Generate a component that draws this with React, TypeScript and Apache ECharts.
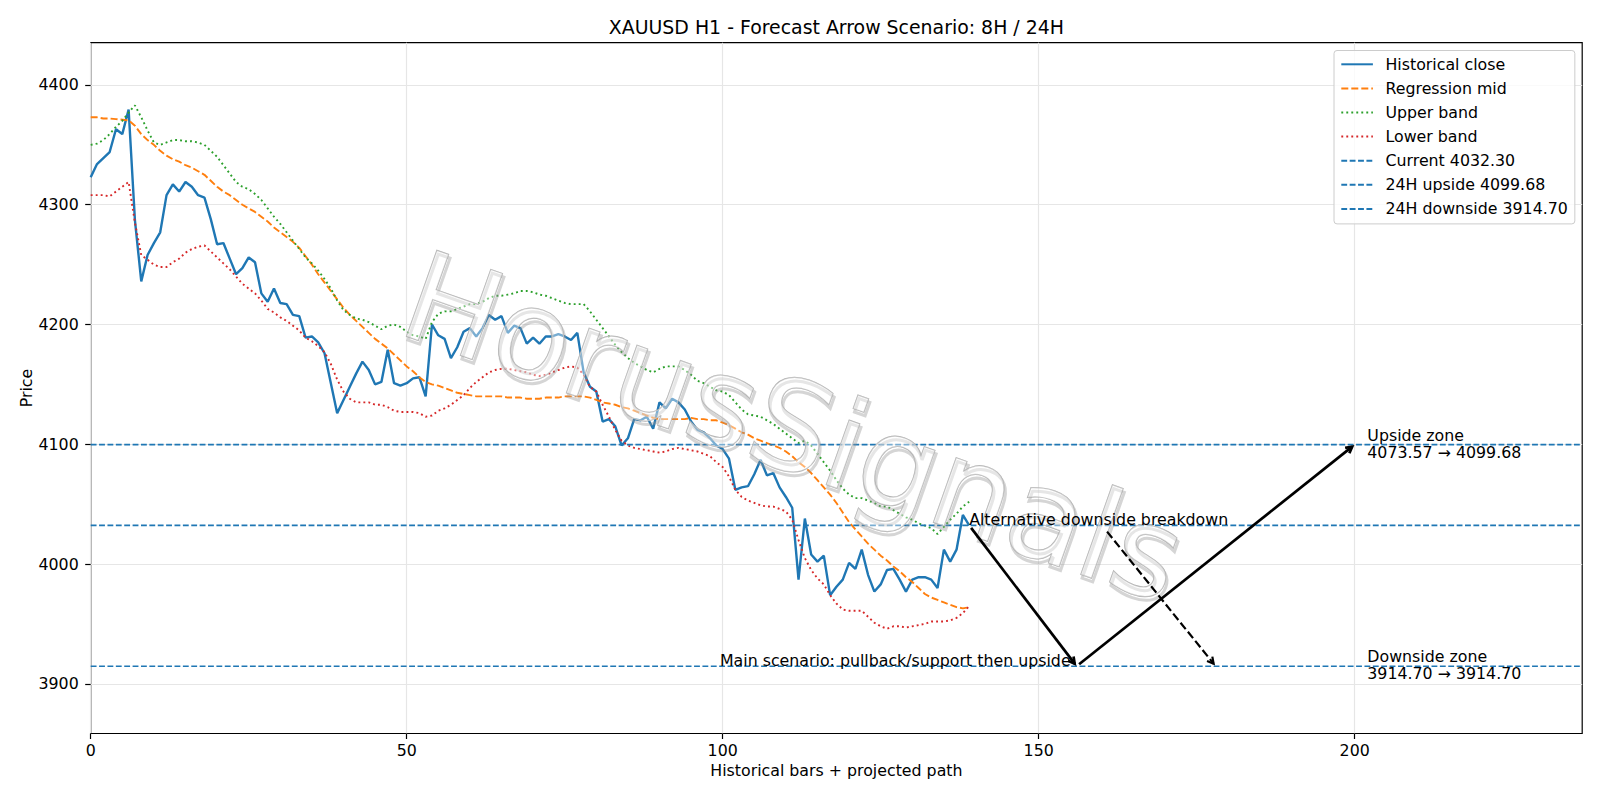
import { useEffect, useRef } from 'react';
import * as echarts from 'echarts';

// ---------- text & layout ----------
const FONT = '"DejaVu Sans", "Liberation Sans", sans-serif';
const FS = 15.8; // 10 pt
const FS_TITLE = 18.9; // 12 pt
const TITLE = 'XAUUSD H1 - Forecast Arrow Scenario: 8H / 24H';
const X_NAME = 'Historical bars + projected path';
const Y_NAME = 'Price';
const WATERMARK = 'HorusSignals';

// ---------- axes ----------
const X_RANGE = [0, 236];
const Y_RANGE = [3858.5, 4435.3];
const X_TICKS = [0, 50, 100, 150, 200];
const Y_TICKS = [3900, 4000, 4100, 4200, 4300, 4400];

// ---------- H1 series (bar 0 .. 139) ----------
const CLOSE = [
  4323, 4334, 4339, 4344, 4363, 4359, 4379.5, 4287, 4236, 4258,
  4268, 4277, 4308, 4317, 4311, 4319, 4315, 4308, 4306, 4288,
  4267, 4268, 4255, 4242, 4247, 4256, 4252, 4226, 4219, 4230,
  4218, 4217, 4208, 4207, 4189, 4190, 4185, 4176, 4151, 4126,
  4137, 4148, 4159, 4169, 4162, 4150, 4152, 4179, 4151, 4149,
  4151, 4155, 4156, 4140, 4200, 4191, 4188, 4172, 4181, 4194,
  4197, 4190, 4197, 4208, 4204, 4207, 4193, 4199, 4197, 4184,
  4189, 4184, 4190, 4190, 4192, 4190, 4187, 4193, 4160, 4148,
  4144, 4119, 4121, 4115, 4099, 4105, 4121, 4120, 4123, 4113,
  4135, 4130, 4138, 4135, 4129, 4119, 4112, 4110, 4105, 4099,
  4096, 4088, 4062, 4064, 4065, 4075, 4087, 4074, 4076, 4064,
  4056, 4047, 3987, 4038, 4008, 4002, 4007, 3974, 3981, 3987,
  4001, 3996, 4012, 3991, 3977, 3983, 3995, 3996, 3987, 3977,
  3987, 3989, 3989, 3987, 3980, 4012, 4002, 4012, 4041, 4032.3,
];

const MID = [
  4373, 4373, 4372, 4372, 4371.5, 4371, 4370.5, 4366, 4359, 4354,
  4350, 4345, 4341, 4338, 4336, 4333, 4331, 4328, 4325, 4320,
  4315, 4311, 4308, 4304, 4300, 4297, 4294, 4290, 4286, 4281,
  4277, 4273, 4269, 4264, 4257, 4250, 4242, 4235, 4228, 4221,
  4214, 4208, 4203, 4198, 4193, 4188, 4184, 4180, 4175, 4170,
  4165, 4161, 4156, 4152, 4150, 4149, 4147, 4145, 4143, 4142,
  4141, 4140, 4140, 4140, 4140, 4140, 4139, 4139, 4139, 4138,
  4138, 4138, 4139, 4139, 4139, 4140, 4140, 4140, 4140, 4139,
  4137, 4135, 4134, 4133, 4131, 4130, 4128, 4126, 4124, 4122,
  4121, 4121, 4121, 4121, 4121, 4122, 4121, 4121, 4120, 4120,
  4118, 4116, 4113, 4110, 4108, 4105, 4103, 4101, 4099, 4097,
  4094, 4090, 4085, 4081, 4076, 4070, 4064, 4058, 4051, 4043,
  4035, 4029, 4023, 4017, 4012, 4007, 4003, 3998, 3994, 3989,
  3985, 3980, 3975, 3972, 3970, 3968, 3966, 3964, 3963, 3964,
];

const UPPER = [
  4350, 4351, 4354, 4359, 4365, 4370, 4377, 4383, 4373, 4362,
  4352, 4350, 4352, 4354, 4354, 4353, 4353, 4352, 4350, 4345,
  4340, 4333, 4326, 4319, 4315, 4313, 4309, 4304, 4297, 4290,
  4284, 4277, 4270, 4263, 4256, 4251, 4245, 4238, 4230, 4220,
  4212, 4208, 4205, 4204, 4202, 4199, 4196, 4199, 4200, 4198,
  4194, 4191, 4190, 4188, 4202, 4209, 4211, 4211, 4213, 4215,
  4217, 4217, 4219, 4222, 4224, 4224, 4225, 4226, 4228, 4228,
  4227, 4225, 4224, 4222, 4220, 4218, 4217, 4217, 4217, 4211,
  4204, 4197, 4190, 4183, 4177, 4172, 4168, 4165, 4162, 4160,
  4163, 4165, 4165, 4165, 4162, 4158, 4153, 4151, 4148, 4145,
  4144, 4141, 4135, 4129, 4125, 4124, 4123, 4120, 4117, 4113,
  4109, 4105, 4101, 4103, 4099, 4092, 4085, 4078, 4070, 4063,
  4058, 4055, 4055, 4053, 4051, 4048, 4048, 4045, 4042, 4039,
  4037, 4034, 4032, 4030, 4025, 4031, 4037, 4042, 4048, 4052,
];

const LOWER = [
  4308, 4308, 4308, 4307, 4311, 4315, 4319, 4285, 4258, 4254,
  4250, 4248, 4248, 4252, 4255, 4260, 4263, 4265, 4266, 4261,
  4256, 4251, 4246, 4240, 4234, 4230, 4226, 4220, 4213, 4210,
  4206, 4203, 4199, 4195, 4189, 4186, 4182, 4177, 4167, 4154,
  4144, 4138, 4135, 4135, 4135, 4133, 4133, 4131, 4128, 4127,
  4127, 4127, 4126, 4123, 4124, 4128, 4130, 4133, 4137, 4141,
  4147, 4152, 4156, 4160, 4162, 4163, 4163, 4162, 4161, 4160,
  4158, 4157, 4158, 4160, 4162, 4164, 4165, 4164, 4158, 4148,
  4144, 4133, 4123, 4112, 4103, 4099, 4097, 4096, 4095, 4094,
  4093, 4094, 4096, 4097, 4096, 4095, 4094, 4092, 4090, 4085,
  4081, 4073, 4062, 4056, 4053, 4051, 4049, 4048, 4048, 4046,
  4044, 4037, 4020, 4005, 3995, 3988, 3983, 3974, 3967, 3962,
  3961, 3961, 3961, 3956, 3951, 3948, 3946, 3948, 3948, 3947,
  3948, 3949, 3950, 3952, 3952, 3952, 3953, 3955, 3959, 3965,
];

// ---------- levels & scenario ----------
const CURRENT = 4032.3;
const UPSIDE_24H = 4099.68;
const DOWNSIDE_24H = 3914.7;
const UPSIDE_ZONE = [4073.57, 4099.68];
const DOWNSIDE_ZONE = [3914.7, 3914.7];

// main path: now -> pullback/support -> 24H upside (bar index, price)
const PATH_X = [139, 156, 200];
const PATH_Y = [CURRENT, DOWNSIDE_24H, UPSIDE_24H];
// alternative: label anchor -> breakdown target
const ALT_X = [139, 178];
const ALT_Y = [CURRENT, DOWNSIDE_24H];
const ZONE_X = 202;

const MAIN_TEXT = 'Main scenario: pullback/support then upside';
const ALT_TEXT = 'Alternative downside breakdown';
const fmt = (v: number) => v.toFixed(2);
const NOTE_TEXT = [
  MAIN_TEXT,
  ALT_TEXT,
  `Upside zone\n${fmt(UPSIDE_ZONE[0])} → ${fmt(UPSIDE_ZONE[1])}`,
  `Downside zone\n${fmt(DOWNSIDE_ZONE[0])} → ${fmt(DOWNSIDE_ZONE[1])}`,
];
const NOTE_X = [PATH_X[1], ALT_X[0], ZONE_X, ZONE_X];
const NOTE_Y = [PATH_Y[1], ALT_Y[0], UPSIDE_ZONE[1], DOWNSIDE_ZONE[1]];

// ---------- styling ----------
const C_BLUE = '#1f77b4';
const C_ORANGE = '#ff7f0e';
const C_GREEN = '#2ca02c';
const C_RED = '#d62728';
const GRID_LINE = '#e6e6e6';
const CENTRAL = 0.346; // central baseline offset above the alphabetic baseline, in em

let measureCtx: CanvasRenderingContext2D | null = null;
function textWidth(text: string, size: number): number {
  if (!measureCtx) measureCtx = document.createElement('canvas').getContext('2d');
  if (!measureCtx) return text.length * size * 0.55;
  measureCtx.font = `${size}px ${FONT}`;
  return measureCtx.measureText(text).width;
}

function arrowChildren(s: number[], e: number[], width: number, dash: number[] | null) {
  const shrink = 3.2;
  const dx = e[0] - s[0];
  const dy = e[1] - s[1];
  const len = Math.hypot(dx, dy) || 1;
  const ux = dx / len;
  const uy = dy / len;
  const p0 = [s[0] + ux * shrink, s[1] + uy * shrink];
  const tip = [e[0] - ux * shrink, e[1] - uy * shrink];
  const headL = 6.3;
  const headW = 3.4;
  const bx = tip[0] - ux * headL;
  const by = tip[1] - uy * headL;
  const nx = -uy;
  const ny = ux;
  return [
    {
      type: 'line',
      shape: { x1: p0[0], y1: p0[1], x2: tip[0], y2: tip[1] },
      style: { stroke: '#000', lineWidth: width, lineDash: dash || undefined, lineCap: 'butt' },
    },
    {
      type: 'polyline',
      shape: { points: [[bx + nx * headW, by + ny * headW], tip, [bx - nx * headW, by - ny * headW]] },
      style: { stroke: '#000', fill: null, lineWidth: width, lineJoin: 'miter' },
    },
  ];
}

function buildOption() {
  const indexed = (arr: number[]) => arr.map((v, i) => [i, v]);
  const level = (v: number) => [[X_RANGE[0], v], [X_RANGE[1], v]];

  const line = (name: string, data: number[][], color: string, width: number, type: any) => ({
    type: 'line',
    name,
    data,
    symbol: 'none',
    showSymbol: false,
    silent: true,
    lineStyle: { color, width, type, cap: 'butt' },
    itemStyle: { color },
    emphasis: { disabled: true },
  });

  const levelNames = [
    `Current ${fmt(CURRENT)}`,
    `24H upside ${fmt(UPSIDE_24H)}`,
    `24H downside ${fmt(DOWNSIDE_24H)}`,
  ];
  const dashedThin = [5.85, 2.53];

  const arrowRows = [
    [PATH_X[0], PATH_Y[0], PATH_X[1], PATH_Y[1], 0],
    [PATH_X[1], PATH_Y[1], PATH_X[2], PATH_Y[2], 0],
    [ALT_X[0], ALT_Y[0], ALT_X[1], ALT_Y[1], 1],
  ];
  const noteRows = NOTE_X.map((x, i) => [x, NOTE_Y[i]]);

  const axisLabel = (ticks: number[], margin: number) => ({
    customValues: ticks,
    margin,
    color: '#000',
    fontSize: FS,
    fontFamily: FONT,
    formatter: (v: number) => String(v),
  });
  const axisTick = (ticks: number[]) => ({
    show: true,
    customValues: ticks,
    length: 5.5,
    lineStyle: { color: '#000', width: 1.2 },
  });

  return {
    animation: false,
    backgroundColor: '#ffffff',
    textStyle: { fontFamily: FONT, fontSize: FS, color: '#000' },
    grid: {
      left: 90.7,
      right: 17.8,
      top: 42.7,
      bottom: 66.5,
      show: true,
      borderColor: '#000',
      borderWidth: 1.2,
      backgroundColor: 'transparent',
      containLabel: false,
      outerBoundsMode: 'none',
    },
    xAxis: {
      type: 'value',
      min: X_RANGE[0],
      max: X_RANGE[1],
      interval: 50,
      axisLine: { show: false },
      axisTick: axisTick(X_TICKS),
      axisLabel: axisLabel(X_TICKS, 9),
      splitLine: { show: true, lineStyle: { color: GRID_LINE, width: 1.2 } },
    },
    yAxis: {
      type: 'value',
      min: Y_RANGE[0],
      max: Y_RANGE[1],
      minInterval: 100,
      maxInterval: 100,
      axisLine: { show: false },
      axisTick: axisTick(Y_TICKS),
      axisLabel: axisLabel(Y_TICKS, 12),
      splitLine: { show: true, lineStyle: { color: GRID_LINE, width: 1.2 } },
    },
    legend: {
      orient: 'vertical',
      left: 1334,
      top: 50.5,
      data: ['Historical close', 'Regression mid', 'Upper band', 'Lower band', ...levelNames],
      itemWidth: 31.6,
      itemHeight: 14,
      itemGap: 8.1,
      padding: [5.8, 7, 7, 6.3],
      backgroundColor: 'rgba(255,255,255,0.8)',
      borderColor: '#cccccc',
      borderWidth: 1,
      borderRadius: 3,
      selectedMode: false,
      itemStyle: { opacity: 0, borderWidth: 0 },
      textStyle: { fontFamily: FONT, fontSize: FS, color: '#000', lineHeight: 14, padding: [0, 0, 0, 7.6] },
    },
    graphic: [
      {
        type: 'text',
        x: 836.4,
        y: 26.5,
        silent: true,
        style: { text: TITLE, font: `${FS_TITLE}px ${FONT}`, fill: '#000', align: 'center', verticalAlign: 'middle', textAlign: 'center', textVerticalAlign: 'middle' },
      },
      {
        type: 'text',
        x: 836.4,
        y: 770,
        silent: true,
        style: { text: X_NAME, font: `${FS}px ${FONT}`, fill: '#000', align: 'center', verticalAlign: 'middle', textAlign: 'center', textVerticalAlign: 'middle' },
      },
      {
        type: 'text',
        x: 26,
        y: 388,
        rotation: Math.PI / 2,
        silent: true,
        style: { text: Y_NAME, font: `${FS}px ${FONT}`, fill: '#000', align: 'center', verticalAlign: 'middle', textAlign: 'center', textVerticalAlign: 'middle' },
      },
      {
        type: 'group',
        x: 794,
        y: 427,
        rotation: -0.34,
        silent: true,
        z: 50,
        children: [
          {
            type: 'text',
            x: 2.5,
            y: 3,
            z: 50,
            silent: true,
            style: { text: WATERMARK, font: `125px ${FONT}`, fill: 'rgba(0,0,0,0)', stroke: 'rgba(150,150,150,0.4)', lineWidth: 3, align: 'center', verticalAlign: 'middle', textAlign: 'center', textVerticalAlign: 'middle' },
          },
          {
            type: 'text',
            x: 0,
            y: 0,
            z: 51,
            silent: true,
            style: { text: WATERMARK, font: `125px ${FONT}`, fill: 'rgba(255,255,255,0.4)', stroke: 'rgba(170,170,170,0.9)', lineWidth: 1.2, align: 'center', verticalAlign: 'middle', textAlign: 'center', textVerticalAlign: 'middle' },
          },
        ],
      },
    ],
    series: [
      line('Historical close', indexed(CLOSE), C_BLUE, 2.4, 'solid'),
      line('Regression mid', indexed(MID), C_ORANGE, 1.9, [7.0, 3.0]),
      line('Upper band', indexed(UPPER), C_GREEN, 1.9, [1.9, 3.1]),
      line('Lower band', indexed(LOWER), C_RED, 1.9, [1.9, 3.1]),
      line(levelNames[0], level(CURRENT), C_BLUE, 1.6, dashedThin),
      line(levelNames[1], level(UPSIDE_24H), C_BLUE, 1.6, dashedThin),
      line(levelNames[2], level(DOWNSIDE_24H), C_BLUE, 1.6, dashedThin),
      {
        type: 'custom',
        name: 'scenario arrows',
        coordinateSystem: 'cartesian2d',
        data: arrowRows,
        encode: { x: [0, 2], y: [1, 3] },
        clip: false,
        silent: true,
        z: 60,
        renderItem: (_params: any, api: any) => {
          const a = api.coord([api.value(0), api.value(1)]);
          const b = api.coord([api.value(2), api.value(3)]);
          const fromLabel = api.value(4) === 1;
          if (!fromLabel) {
            return { type: 'group', children: arrowChildren(a, b, 2.7, null) };
          }
          // the alternative arrow leaves the label's box, aimed from its centre
          const w = textWidth(ALT_TEXT, FS);
          const asc = 0.76 * FS;
          const desc = 0.24 * FS;
          const cx = a[0] + w / 2;
          const cy = a[1] + (desc - asc) / 2;
          const dx = b[0] - cx;
          const dy = b[1] - cy;
          const len = Math.hypot(dx, dy) || 1;
          const ux = dx / len;
          const uy = dy / len;
          const tx = Math.abs(ux) > 1e-6 ? w / 2 / Math.abs(ux) : Infinity;
          const ty = Math.abs(uy) > 1e-6 ? (asc + desc) / 2 / Math.abs(uy) : Infinity;
          const t = Math.min(tx, ty);
          const start = [cx + ux * t, cy + uy * t];
          return { type: 'group', children: arrowChildren(start, b, 2.2, [8.2, 3.5]) };
        },
      },
      {
        type: 'custom',
        name: 'scenario notes',
        coordinateSystem: 'cartesian2d',
        data: noteRows,
        clip: false,
        silent: true,
        z: 61,
        renderItem: (params: any, api: any) => {
          const i = params.dataIndex;
          const p = api.coord([api.value(0), api.value(1)]);
          const zone = i >= 2;
          const align = i === 0 ? 'right' : 'left';
          const x = p[0] + (i === 0 ? -6 : 0);
          const y = zone ? p[1] - 1 : p[1] - CENTRAL * FS;
          return {
            type: 'text',
            x,
            y,
            style: {
              text: NOTE_TEXT[i],
              font: `${FS}px ${FONT}`,
              fill: '#000',
              lineHeight: 16.7,
              align,
              verticalAlign: 'middle',
              textAlign: align,
              textVerticalAlign: 'middle',
            },
          };
        },
      },
    ],
  };
}

export default function App() {
  const ref = useRef<HTMLDivElement>(null);
  useEffect(() => {
    const el = ref.current;
    if (!el) return;
    const chart = echarts.init(el, null, { renderer: 'svg' });
    chart.setOption(buildOption() as any);
    return () => chart.dispose();
  }, []);
  return (
    <div
      ref={ref}
      style={{ position: 'absolute', left: 0, top: 0, width: 1600, height: 800, background: '#fff' }}
    />
  );
}
